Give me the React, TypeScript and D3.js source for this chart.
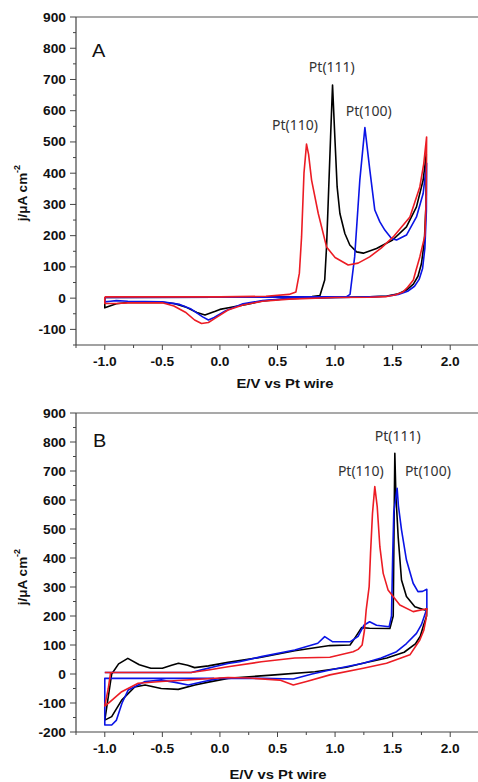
import * as d3 from "d3";

type Pt = [number, number];

// tick values
const xMajor = [-1.0, -0.5, 0.0, 0.5, 1.0, 1.5, 2.0];
const xMinor = [-1.25, -0.75, -0.25, 0.25, 0.75, 1.25, 1.75];
const yMajorA = [-100, 0, 100, 200, 300, 400, 500, 600, 700, 800, 900];
const yMinorA = [-150, -50, 50, 150, 250, 350, 450, 550, 650, 750, 850];
const yMajorB = [-200, -100, 0, 100, 200, 300, 400, 500, 600, 700, 800, 900];
const yMinorB = [-150, -50, 50, 150, 250, 350, 450, 550, 650, 750, 850];

// panel A: [E (V), j (uA cm-2)]
const aPt111: Pt[] = [
  [-1.0, 2], [0.0, 3], [0.5, 4], [0.8, 5], [0.868, 8], [0.91, 58], [0.926, 164], [0.94, 304],
  [0.961, 516], [0.978, 682], [0.998, 516], [1.018, 356], [1.042, 271], [1.085, 207],
  [1.128, 170], [1.187, 148], [1.245, 144], [1.36, 159], [1.5, 186], [1.62, 228],
  [1.707, 292], [1.765, 378], [1.792, 462],
  [1.79, 300], [1.775, 180], [1.75, 110], [1.72, 70], [1.68, 45], [1.62, 26], [1.55, 14],
  [1.45, 7], [1.3, 4], [1.0, 2], [0.6, -1], [0.37, -9], [0.23, -20], [0.087, -30],
  [0.0, -36], [-0.04, -42], [-0.13, -54], [-0.2, -46], [-0.3, -28], [-0.4, -17],
  [-0.5, -13], [-0.8, -14], [-0.9, -18], [-1.0, -31], [-1.0, 2],
];
const aPt100: Pt[] = [
  [-1.0, 2], [0.0, 3], [0.8, 4], [1.1, 5], [1.13, 12], [1.17, 132], [1.215, 378],
  [1.259, 546], [1.302, 410], [1.345, 282], [1.389, 244], [1.432, 218], [1.49, 191],
  [1.534, 186], [1.62, 202], [1.707, 260], [1.765, 335], [1.795, 432],
  [1.793, 280], [1.78, 160], [1.76, 95], [1.73, 60], [1.69, 38], [1.63, 22], [1.55, 12],
  [1.45, 6], [1.3, 4], [1.0, 2], [0.6, -1], [0.37, -8], [0.2, -18], [0.05, -40],
  [-0.05, -62], [-0.1, -70], [-0.15, -60], [-0.25, -35], [-0.35, -20], [-0.5, -12],
  [-0.8, -10], [-0.9, -8], [-0.95, -10], [-1.0, -12], [-1.0, 2],
];
const aPt110: Pt[] = [
  [-1.0, 4], [0.0, 4], [0.4, 6], [0.6, 12], [0.66, 20], [0.69, 80], [0.709, 196],
  [0.73, 400], [0.752, 493], [0.77, 460], [0.796, 378], [0.854, 271], [0.926, 164],
  [1.0, 130], [1.114, 106], [1.2, 112], [1.3, 132], [1.4, 160], [1.505, 196], [1.65, 260],
  [1.736, 356], [1.77, 430], [1.795, 516],
  [1.792, 330], [1.78, 200], [1.736, 132], [1.7, 85], [1.68, 58], [1.63, 35], [1.59, 20],
  [1.52, 10], [1.447, 5], [1.3, 3], [1.0, 2], [0.6, -3], [0.37, -10], [0.2, -22],
  [0.07, -38], [-0.04, -64], [-0.1, -78], [-0.16, -81], [-0.22, -70], [-0.3, -45],
  [-0.4, -25], [-0.5, -15], [-0.8, -15], [-0.9, -17], [-1.0, -17], [-1.0, 4],
];

// panel B
const bPt111: Pt[] = [
  [-1.0, -159], [-0.97, -80], [-0.94, 0], [-0.88, 35], [-0.8, 54], [-0.7, 32], [-0.6, 20],
  [-0.5, 20], [-0.42, 30], [-0.36, 37], [-0.28, 30], [-0.22, 22], [-0.1, 28], [0.07, 40],
  [0.36, 58], [0.65, 80], [0.955, 98], [1.13, 100], [1.17, 123], [1.23, 160], [1.3, 158],
  [1.476, 157], [1.505, 200], [1.512, 500], [1.519, 761], [1.528, 620], [1.548, 473],
  [1.577, 324], [1.62, 267], [1.693, 232], [1.78, 221], [1.795, 225],
  [1.795, 200], [1.77, 170], [1.74, 130], [1.7, 105], [1.6, 75], [1.45, 55], [1.25, 38],
  [1.1, 23], [0.825, 8], [0.477, -3], [0.07, -15], [-0.1, -28], [-0.217, -38],
  [-0.362, -53], [-0.51, -50], [-0.65, -38], [-0.74, -45], [-0.853, -90], [-0.94, -147],
  [-1.0, -159],
];
const bPt100: Pt[] = [
  [-1.0, 5], [-0.25, 5], [-0.15, 15], [-0.05, 25], [0.07, 36], [0.17, 42], [0.36, 60],
  [0.65, 83], [0.85, 106], [0.91, 129], [0.98, 111], [1.13, 111], [1.2, 130], [1.25, 168],
  [1.3, 180], [1.36, 168], [1.47, 163], [1.49, 200], [1.5, 400], [1.51, 560],
  [1.525, 600], [1.539, 640], [1.55, 580], [1.577, 497], [1.62, 393], [1.678, 313],
  [1.72, 284], [1.76, 285], [1.797, 292],
  [1.797, 225], [1.75, 170], [1.707, 140], [1.62, 105], [1.534, 77], [1.4, 55],
  [1.245, 37], [0.955, 14], [0.8, 0], [0.637, -17], [0.376, -15], [0.0, -15],
  [-0.14, -26], [-0.275, -38], [-0.4, -28], [-0.51, -21], [-0.65, -26], [-0.796, -55],
  [-0.85, -100], [-0.9, -160], [-0.94, -176], [-1.0, -176], [-1.0, -15], [-0.05, -15],
];
const bPt110: Pt[] = [
  [-1.0, 5], [-0.25, 5], [-0.1, 14], [0.07, 25], [0.36, 42], [0.65, 55], [0.955, 58],
  [1.157, 77], [1.2, 85], [1.235, 100], [1.255, 150], [1.27, 220], [1.296, 301],
  [1.308, 416], [1.325, 554], [1.345, 646], [1.366, 577], [1.389, 439], [1.418, 347],
  [1.46, 290], [1.5625, 238], [1.678, 215], [1.798, 225],
  [1.79, 190], [1.77, 150], [1.736, 117], [1.65, 66], [1.447, 37], [1.245, 20],
  [0.955, -3], [0.752, -26], [0.637, -38], [0.52, -21], [0.26, -14], [0.07, -12],
  [-0.217, -19], [-0.51, -26], [-0.71, -32], [-0.853, -61], [-0.97, -101], [-1.0, -110],
  [-0.97, -50], [-0.95, 3],
];

const seriesColors = ["#000000", "#0a14e6", "#ec1c24"];

const W = 478;
const H = 782;
const x = d3.scaleLinear().domain([-1.25, 2.25]).range([76, 479]);

type PanelProps = {
  y: d3.ScaleLinear<number, number>;
  yMajor: number[];
  yMinor: number[];
  curves: Pt[][];
  letter: string;
  letterPos: Pt;
  labels: { text: string; at: Pt }[];
  titleX: number;
  titleY: number;
  yTitleMid: number;
};

function SText(props: { x: number; y: number; sx?: number; anchor?: string; size: number; bold?: boolean; children: any; dy?: string; fill?: string; family?: string }) {
  const { x, y, sx = 1.1, anchor = "middle", size, bold = true, dy, fill = "#111", family = "'Liberation Sans', Arial, sans-serif" } = props;
  return (
    <text
      transform={`translate(${x},${y}) scale(${sx},1)`}
      textAnchor={anchor}
      fontSize={size}
      fontWeight={bold ? "bold" : "normal"}
      fontFamily={family}
      dy={dy}
      fill={fill}
    >
      {props.children}
    </text>
  );
}

function Panel({ y, yMajor, yMinor, curves, letter, letterPos, labels, titleX, titleY, yTitleMid }: PanelProps) {
  const [y0, y1] = y.range();
  const left = x.range()[0];
  const line = d3
    .line<Pt>()
    .x((d) => x(d[0]))
    .y((d) => y(d[1]));
  return (
    <g>
      {curves.map((c, i) => (
        <path key={i} d={line(c) || ""} fill="none" stroke={seriesColors[i]} strokeWidth={1.6} strokeLinejoin="round" />
      ))}
      {/* frame */}
      <line x1={left} x2={W} y1={y1} y2={y1} stroke="#555" strokeWidth={1.2} />
      <line x1={left} x2={W} y1={y0} y2={y0} stroke="#444" strokeWidth={1.2} />
      <line x1={left} x2={left} y1={y1} y2={y0} stroke="#444" strokeWidth={1.2} />
      {xMajor.map((v) => (
        <g key={"xm" + v}>
          <line x1={x(v)} x2={x(v)} y1={y0} y2={y0 + 5} stroke="#444" strokeWidth={1} />
          <SText x={x(v)} y={y0 + 21} size={12.5}>
            {v.toFixed(1)}
          </SText>
        </g>
      ))}
      {xMinor.map((v) => (
        <line key={"xn" + v} x1={x(v)} x2={x(v)} y1={y0} y2={y0 + 3} stroke="#444" strokeWidth={1} />
      ))}
      {yMajor.map((v) => (
        <g key={"ym" + v}>
          <line x1={left - 6} x2={left} y1={y(v)} y2={y(v)} stroke="#444" strokeWidth={1} />
          <SText x={left - 10} y={y(v)} size={12.5} anchor="end" dy="0.36em">
            {String(v)}
          </SText>
        </g>
      ))}
      {yMinor.map((v) => (
        <line key={"yn" + v} x1={left - 3} x2={left} y1={y(v)} y2={y(v)} stroke="#444" strokeWidth={1} />
      ))}
      <SText x={titleX} y={titleY} size={13} sx={1.14}>
        E/V vs Pt wire
      </SText>
      <text
        transform={`translate(27,${yTitleMid}) rotate(-90)`}
        textAnchor="middle"
        fontSize={13.5}
        fontWeight="bold"
        fontFamily="'Liberation Sans', Arial, sans-serif"
        fill="#111"
      >
        j/μA cm
        <tspan fontSize={9} dy={-7}>
          -2
        </tspan>
      </text>
      <SText x={x(letterPos[0])} y={y(letterPos[1])} size={19} bold={false} anchor="start" sx={1.05}>
        {letter}
      </SText>
      {labels.map((l) => (
        <text
          key={l.text}
          x={x(l.at[0])}
          y={y(l.at[1])}
          textAnchor="middle"
          fontSize={14}
          fontFamily="'Noto Sans', sans-serif"
          fill="#333"
        >
          {l.text}
        </text>
      ))}
    </g>
  );
}

export default function App() {
  const yA = d3.scaleLinear().domain([-150, 900]).range([345, 17]);
  const yB = d3.scaleLinear().domain([-200, 900]).range([732, 413]);
  return (
    <div style={{ position: "absolute", left: 0, top: 0, width: W, height: H, background: "#fff" }}>
      <svg width={W} height={H} style={{ display: "block" }}>
        <rect width={W} height={H} fill="#fff" />
        <Panel
          y={yA}
          yMajor={yMajorA}
          yMinor={yMinorA}
          curves={[aPt111, aPt100, aPt110]}
          letter="A"
          letterPos={[-1.111, 771]}
          labels={[
            { text: "Pt(111)", at: [0.972, 723] },
            { text: "Pt(100)", at: [1.293, 582] },
            { text: "Pt(110)", at: [0.651, 538] },
          ]}
          titleX={285}
          titleY={388}
          yTitleMid={193}
        />
        <Panel
          y={yB}
          yMajor={yMajorB}
          yMinor={yMinorB}
          curves={[bPt111, bPt100, bPt110]}
          letter="B"
          letterPos={[-1.103, 783]}
          labels={[
            { text: "Pt(111)", at: [1.545, 803] },
            { text: "Pt(110)", at: [1.224, 683] },
            { text: "Pt(100)", at: [1.806, 683] },
          ]}
          titleX={278}
          titleY={779}
          yTitleMid={577}
        />
      </svg>
    </div>
  );
}
